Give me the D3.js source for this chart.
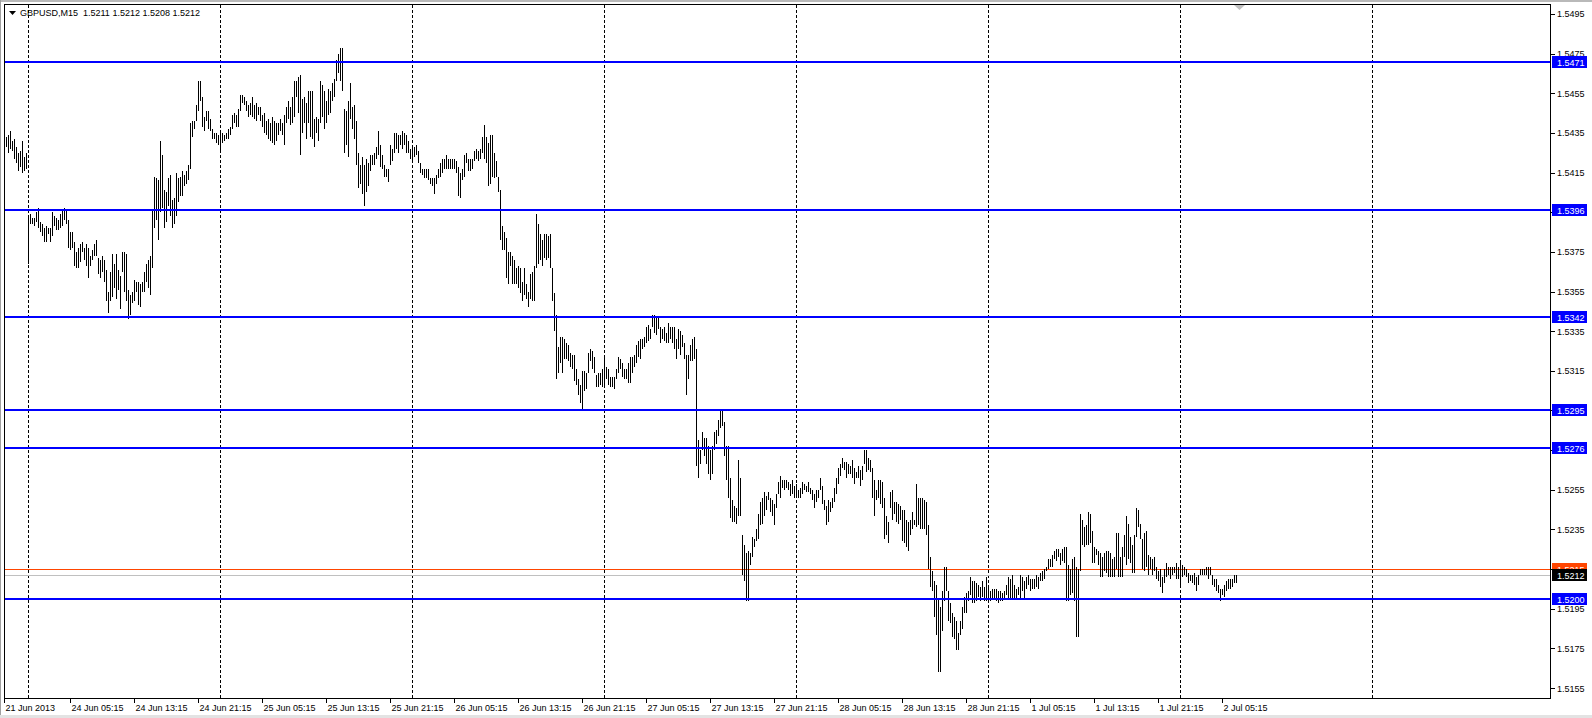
<!DOCTYPE html>
<meta charset="utf-8">

<script src="https://d3js.org/d3.v7.min.js"></script>

<style>
  body { margin: 0; background: #ffffff; }
  text { font-family: Tahoma, "Liberation Sans", Arial, sans-serif; font-size: 9px; }
</style>

<body>
  <div id="my_chart"></div>
</body>

<script>

  // header line of the chart window
  const chartTitle = "GBPUSD,M15  1.5211 1.5212 1.5208 1.5212";

  // M15 bars, first one is 21 Jun 2013 21:15 (bar highs / lows)
  const highs = [
    1.5433,1.5434,1.5436,1.5431,1.5432,1.5428,1.5425,1.5426,1.5431,1.5423,
    1.5425,1.5392,1.5394,1.5392,1.5392,1.5395,1.5397,1.5390,1.5389,1.5387,
    1.5388,1.5387,1.5387,1.5395,1.5393,1.5392,1.5391,1.5394,1.5396,1.5397,
    1.5396,1.5391,1.5385,1.5385,1.5380,1.5375,1.5377,1.5379,1.5380,1.5377,
    1.5379,1.5377,1.5373,1.5376,1.5379,1.5381,1.5372,1.5371,1.5373,1.5371,
    1.5366,1.5355,1.5365,1.5374,1.5369,1.5374,1.5366,1.5363,1.5375,1.5375,
    1.5374,1.5356,1.5353,1.5355,1.5361,1.5360,1.5360,1.5359,1.5360,1.5365,
    1.5369,1.5371,1.5373,1.5396,1.5413,1.5412,1.5411,1.5431,1.5424,1.5406,
    1.5405,1.5412,1.5414,1.5401,1.5402,1.5415,1.5412,1.5413,1.5416,1.5414,
    1.5416,1.5419,1.5440,1.5441,1.5441,1.5449,1.5461,1.5461,1.5453,1.5443,
    1.5446,1.5446,1.5442,1.5437,1.5435,1.5435,1.5434,1.5435,1.5435,1.5434,
    1.5435,1.5437,1.5438,1.5444,1.5445,1.5444,1.5447,1.5454,1.5454,1.5453,
    1.5451,1.5449,1.5450,1.5453,1.5449,1.5450,1.5448,1.5448,1.5444,1.5445,
    1.5441,1.5442,1.5440,1.5443,1.5441,1.5440,1.5440,1.5442,1.5440,1.5444,
    1.5448,1.5451,1.5448,1.5453,1.5461,1.5461,1.5463,1.5464,1.5452,1.5453,
    1.5450,1.5456,1.5456,1.5456,1.5442,1.5443,1.5442,1.5461,1.5459,1.5456,
    1.5451,1.5457,1.5456,1.5460,1.5462,1.5472,1.5475,1.5478,1.5478,1.5447,
    1.5446,1.5451,1.5460,1.5448,1.5449,1.5441,1.5425,1.5419,1.5423,1.5419,
    1.5422,1.5420,1.5424,1.5424,1.5425,1.5428,1.5436,1.5429,1.5424,1.5419,
    1.5417,1.5417,1.5429,1.5427,1.5435,1.5435,1.5434,1.5434,1.5436,1.5435,
    1.5434,1.5431,1.5427,1.5428,1.5428,1.5429,1.5426,1.5420,1.5417,1.5417,
    1.5417,1.5417,1.5412,1.5412,1.5412,1.5414,1.5417,1.5420,1.5422,1.5422,
    1.5424,1.5422,1.5422,1.5422,1.5422,1.5421,1.5418,1.5415,1.5417,1.5424,
    1.5425,1.5422,1.5422,1.5422,1.5426,1.5427,1.5426,1.5427,1.5433,1.5439,
    1.5433,1.5430,1.5434,1.5434,1.5425,1.5421,1.5413,1.5406,1.5388,1.5385,
    1.5382,1.5375,1.5375,1.5373,1.5371,1.5367,1.5368,1.5367,1.5360,1.5367,
    1.5359,1.5355,1.5364,1.5365,1.5368,1.5394,1.5389,1.5384,1.5381,1.5384,
    1.5384,1.5383,1.5384,1.5367,1.5354,1.5343,1.5327,1.5332,1.5332,1.5331,
    1.5329,1.5328,1.5324,1.5323,1.5323,1.5316,1.5311,1.5308,1.5315,1.5315,
    1.5314,1.5324,1.5326,1.5325,1.5322,1.5313,1.5314,1.5314,1.5316,1.5322,
    1.5317,1.5316,1.5312,1.5312,1.5312,1.5316,1.5322,1.5321,1.5319,1.5316,
    1.5316,1.5319,1.5322,1.5322,1.5323,1.5328,1.5330,1.5331,1.5331,1.5332,
    1.5337,1.5338,1.5336,1.5343,1.5343,1.5342,1.5342,1.5337,1.5336,1.5337,
    1.5334,1.5339,1.5337,1.5337,1.5337,1.5331,1.5336,1.5335,1.5333,1.5329,
    1.5323,1.5323,1.5328,1.5331,1.5332,1.5326,1.5280,1.5275,1.5284,1.5281,
    1.5281,1.5277,1.5275,1.5277,1.5284,1.5285,1.5290,1.5295,1.5295,1.5289,
    1.5277,1.5277,1.5261,1.5250,1.5247,1.5246,1.5270,1.5261,1.5232,1.5227,
    1.5223,1.5224,1.5223,1.5231,1.5230,1.5235,1.5243,1.5249,1.5251,1.5254,
    1.5252,1.5254,1.5251,1.5250,1.5248,1.5253,1.5259,1.5262,1.5260,1.5260,
    1.5260,1.5259,1.5258,1.5260,1.5257,1.5258,1.5255,1.5256,1.5259,1.5258,
    1.5257,1.5259,1.5256,1.5255,1.5253,1.5255,1.5255,1.5261,1.5257,1.5250,
    1.5247,1.5250,1.5249,1.5251,1.5256,1.5261,1.5266,1.5268,1.5271,1.5269,
    1.5269,1.5268,1.5267,1.5270,1.5266,1.5264,1.5267,1.5265,1.5267,1.5275,
    1.5275,1.5271,1.5270,1.5266,1.5260,1.5255,1.5260,1.5260,1.5259,1.5251,
    1.5242,1.5239,1.5254,1.5255,1.5249,1.5249,1.5248,1.5247,1.5245,1.5245,
    1.5240,1.5239,1.5240,1.5244,1.5240,1.5258,1.5251,1.5251,1.5251,1.5250,
    1.5249,1.5237,1.5221,1.5214,1.5209,1.5207,1.5200,1.5196,1.5204,1.5216,
    1.5216,1.5204,1.5198,1.5193,1.5191,1.5189,1.5183,1.5189,1.5196,1.5201,
    1.5203,1.5204,1.5211,1.5209,1.5209,1.5208,1.5207,1.5206,1.5209,1.5206,
    1.5211,1.5206,1.5204,1.5205,1.5205,1.5205,1.5204,1.5204,1.5203,1.5204,
    1.5207,1.5211,1.5210,1.5212,1.5207,1.5205,1.5206,1.5212,1.5211,1.5209,
    1.5211,1.5212,1.5210,1.5210,1.5210,1.5212,1.5211,1.5213,1.5214,1.5215,
    1.5216,1.5220,1.5220,1.5222,1.5224,1.5225,1.5225,1.5223,1.5225,1.5226,
    1.5226,1.5217,1.5215,1.5220,1.5221,1.5216,1.5215,1.5243,1.5240,1.5236,
    1.5237,1.5244,1.5243,1.5234,1.5226,1.5225,1.5224,1.5223,1.5221,1.5223,
    1.5224,1.5224,1.5223,1.5220,1.5221,1.5233,1.5233,1.5221,1.5226,1.5232,
    1.5242,1.5238,1.5231,1.5227,1.5232,1.5246,1.5245,1.5238,1.5230,1.5233,
    1.5234,1.5222,1.5221,1.5220,1.5221,1.5216,1.5214,1.5215,1.5211,1.5215,
    1.5218,1.5216,1.5216,1.5216,1.5216,1.5218,1.5216,1.5219,1.5217,1.5216,
    1.5215,1.5213,1.5212,1.5212,1.5213,1.5211,1.5212,1.5215,1.5215,1.5215,
    1.5216,1.5216,1.5216,1.5212,1.5210,1.5210,1.5207,1.5205,1.5205,1.5207,
    1.5209,1.5210,1.5210,1.5210,1.5212,1.5212
  ];

  const lows = [
    1.5428,1.5425,1.5427,1.5426,1.5422,1.5420,1.5416,1.5418,1.5415,1.5416,
    1.5417,1.5369,1.5389,1.5389,1.5388,1.5390,1.5387,1.5385,1.5383,1.5380,
    1.5380,1.5384,1.5380,1.5383,1.5388,1.5386,1.5386,1.5387,1.5388,1.5391,
    1.5389,1.5377,1.5376,1.5377,1.5368,1.5367,1.5367,1.5370,1.5375,1.5371,
    1.5368,1.5362,1.5368,1.5371,1.5373,1.5373,1.5364,1.5362,1.5365,1.5360,
    1.5350,1.5344,1.5350,1.5352,1.5357,1.5351,1.5356,1.5346,1.5365,1.5355,
    1.5350,1.5341,1.5343,1.5349,1.5350,1.5355,1.5348,1.5347,1.5355,1.5355,
    1.5360,1.5357,1.5353,1.5367,1.5387,1.5391,1.5381,1.5395,1.5397,1.5387,
    1.5390,1.5398,1.5393,1.5387,1.5389,1.5393,1.5400,1.5403,1.5403,1.5408,
    1.5409,1.5411,1.5417,1.5433,1.5437,1.5441,1.5446,1.5451,1.5438,1.5436,
    1.5441,1.5437,1.5436,1.5432,1.5432,1.5430,1.5429,1.5426,1.5430,1.5431,
    1.5432,1.5432,1.5434,1.5437,1.5440,1.5438,1.5438,1.5446,1.5450,1.5449,
    1.5446,1.5443,1.5444,1.5443,1.5442,1.5441,1.5444,1.5441,1.5438,1.5435,
    1.5434,1.5432,1.5431,1.5430,1.5429,1.5431,1.5434,1.5436,1.5434,1.5429,
    1.5440,1.5442,1.5439,1.5440,1.5443,1.5453,1.5445,1.5424,1.5435,1.5440,
    1.5432,1.5440,1.5433,1.5432,1.5428,1.5435,1.5431,1.5440,1.5443,1.5437,
    1.5440,1.5444,1.5445,1.5451,1.5453,1.5461,1.5465,1.5461,1.5456,1.5425,
    1.5429,1.5423,1.5442,1.5437,1.5432,1.5419,1.5407,1.5409,1.5404,1.5398,
    1.5405,1.5408,1.5416,1.5419,1.5419,1.5422,1.5424,1.5418,1.5417,1.5413,
    1.5413,1.5410,1.5419,1.5421,1.5425,1.5427,1.5425,1.5429,1.5427,1.5429,
    1.5425,1.5425,1.5422,1.5421,1.5423,1.5424,1.5420,1.5415,1.5414,1.5412,
    1.5412,1.5411,1.5409,1.5408,1.5404,1.5409,1.5412,1.5413,1.5415,1.5417,
    1.5417,1.5417,1.5417,1.5417,1.5417,1.5415,1.5403,1.5402,1.5411,1.5413,
    1.5420,1.5416,1.5416,1.5417,1.5421,1.5422,1.5421,1.5422,1.5425,1.5422,
    1.5420,1.5408,1.5409,1.5413,1.5412,1.5413,1.5405,1.5381,1.5376,1.5376,
    1.5362,1.5359,1.5368,1.5359,1.5359,1.5359,1.5357,1.5354,1.5350,1.5353,
    1.5351,1.5347,1.5351,1.5350,1.5350,1.5367,1.5369,1.5371,1.5368,1.5372,
    1.5371,1.5372,1.5367,1.5350,1.5335,1.5311,1.5314,1.5319,1.5314,1.5321,
    1.5321,1.5320,1.5317,1.5316,1.5310,1.5308,1.5303,1.5299,1.5295,1.5305,
    1.5306,1.5314,1.5320,1.5316,1.5314,1.5307,1.5307,1.5308,1.5307,1.5307,
    1.5311,1.5308,1.5307,1.5307,1.5306,1.5311,1.5314,1.5316,1.5312,1.5311,
    1.5311,1.5309,1.5309,1.5314,1.5317,1.5319,1.5322,1.5321,1.5326,1.5327,
    1.5329,1.5330,1.5331,1.5337,1.5334,1.5333,1.5336,1.5329,1.5331,1.5330,
    1.5329,1.5329,1.5331,1.5329,1.5326,1.5321,1.5326,1.5323,1.5327,1.5321,
    1.5303,1.5311,1.5320,1.5320,1.5321,1.5267,1.5261,1.5268,1.5275,1.5272,
    1.5268,1.5263,1.5260,1.5263,1.5275,1.5278,1.5282,1.5286,1.5287,1.5272,
    1.5260,1.5251,1.5241,1.5239,1.5239,1.5238,1.5242,1.5242,1.5212,1.5209,
    1.5199,1.5199,1.5217,1.5221,1.5226,1.5229,1.5230,1.5237,1.5238,1.5242,
    1.5245,1.5250,1.5244,1.5242,1.5237,1.5246,1.5253,1.5251,1.5256,1.5255,
    1.5256,1.5255,1.5252,1.5253,1.5251,1.5251,1.5251,1.5251,1.5253,1.5255,
    1.5254,1.5254,1.5253,1.5250,1.5246,1.5249,1.5251,1.5255,1.5248,1.5245,
    1.5237,1.5239,1.5244,1.5246,1.5249,1.5253,1.5258,1.5262,1.5266,1.5265,
    1.5261,1.5263,1.5263,1.5261,1.5258,1.5261,1.5261,1.5257,1.5260,1.5268,
    1.5264,1.5265,1.5264,1.5251,1.5242,1.5250,1.5251,1.5248,1.5246,1.5230,
    1.5232,1.5228,1.5246,1.5240,1.5243,1.5239,1.5238,1.5240,1.5229,1.5228,
    1.5226,1.5224,1.5232,1.5235,1.5237,1.5236,1.5237,1.5235,1.5235,1.5235,
    1.5232,1.5215,1.5206,1.5204,1.5191,1.5182,1.5163,1.5163,1.5184,1.5199,
    1.5204,1.5189,1.5188,1.5181,1.5180,1.5174,1.5174,1.5182,1.5185,1.5193,
    1.5193,1.5199,1.5202,1.5198,1.5198,1.5199,1.5201,1.5199,1.5201,1.5199,
    1.5199,1.5201,1.5199,1.5200,1.5200,1.5199,1.5198,1.5199,1.5199,1.5200,
    1.5202,1.5200,1.5200,1.5200,1.5200,1.5200,1.5202,1.5200,1.5204,1.5200,
    1.5205,1.5207,1.5204,1.5205,1.5205,1.5206,1.5205,1.5209,1.5209,1.5210,
    1.5214,1.5215,1.5216,1.5216,1.5220,1.5219,1.5221,1.5217,1.5219,1.5218,
    1.5199,1.5199,1.5202,1.5203,1.5199,1.5181,1.5181,1.5214,1.5227,1.5226,
    1.5227,1.5227,1.5228,1.5218,1.5218,1.5222,1.5217,1.5211,1.5211,1.5214,
    1.5213,1.5211,1.5211,1.5211,1.5211,1.5215,1.5211,1.5211,1.5211,1.5221,
    1.5217,1.5220,1.5218,1.5213,1.5213,1.5231,1.5236,1.5230,1.5215,1.5214,
    1.5216,1.5212,1.5215,1.5212,1.5214,1.5210,1.5209,1.5206,1.5203,1.5208,
    1.5211,1.5212,1.5210,1.5212,1.5213,1.5210,1.5210,1.5207,1.5211,1.5212,
    1.5211,1.5208,1.5209,1.5208,1.5207,1.5204,1.5207,1.5212,1.5212,1.5212,
    1.5212,1.5210,1.5212,1.5207,1.5206,1.5204,1.5203,1.5199,1.5202,1.5201,
    1.5204,1.5205,1.5205,1.5206,1.5208,1.5208
  ];

  // time axis labels and the bar they sit on
  const timeLabels = ["21 Jun 2013","24 Jun 05:15","24 Jun 13:15","24 Jun 21:15","25 Jun 05:15",
    "25 Jun 13:15","25 Jun 21:15","26 Jun 05:15","26 Jun 13:15","26 Jun 21:15","27 Jun 05:15",
    "27 Jun 13:15","27 Jun 21:15","28 Jun 05:15","28 Jun 13:15","28 Jun 21:15","1 Jul 05:15",
    "1 Jul 13:15","1 Jul 21:15","2 Jul 05:15"];
  const timeLabelBars = [0,32,64,96,128,160,192,224,256,288,320,352,384,416,448,480,512,544,576,608];

  // period separators (start of each day)
  const daySeparatorBars = [11,107,203,299,395,491,587,683];

  const priceTicks = [1.5155,1.5175,1.5195,1.5215,1.5235,1.5255,1.5275,1.5295,1.5315,
    1.5335,1.5355,1.5375,1.5395,1.5415,1.5435,1.5455,1.5475,1.5495];

  // horizontal lines drawn on the chart
  const levels = [1.5471,1.5396,1.5342,1.5295,1.5276,1.5200];
  const askPrice = 1.5215;
  const bidPrice = 1.5212;

  var width = 1592, height = 718;
  var frame = {left: 4.5, top: 4.5, right: 1550.5, bottom: 698.5};

  const svg = d3.select("#my_chart")
    .append("svg")
      .attr("width", width)
      .attr("height", height)
      .style("display", "block");

  svg.append("rect").attr("width", width).attr("height", height).attr("fill", "#ffffff");

  // window edges
  svg.append("rect").attr("x", 0).attr("y", 0).attr("width", width).attr("height", 2).attr("fill", "#b9b9b9");
  svg.append("rect").attr("x", 0).attr("y", 0).attr("width", 1).attr("height", height).attr("fill", "#a0a0a0");
  svg.append("rect").attr("x", 0).attr("y", height - 3).attr("width", width).attr("height", 3).attr("fill", "#e3e3e3");

  const x = d3.scaleLinear()
    .domain([0, 772])
    .range([6.5, 6.5 + 772 * 2]);

  const y = d3.scaleLinear()
    .domain([1.5150, 1.5500])
    .range([698, 4]);

  const py = function(v) { return Math.round(y(v)) + 0.5; };

  // day separators
  svg.selectAll("mySep")
    .data(daySeparatorBars)
    .join("line")
      .attr("x1", function(d) { return x(d); })
      .attr("x2", function(d) { return x(d); })
      .attr("y1", frame.top)
      .attr("y2", frame.bottom)
      .attr("stroke", "#000000")
      .attr("stroke-width", 1)
      .attr("stroke-dasharray", "3,2")
      .attr("shape-rendering", "crispEdges");

  // ask / bid lines
  svg.append("line")
    .attr("x1", frame.left).attr("x2", frame.right)
    .attr("y1", py(askPrice)).attr("y2", py(askPrice))
    .attr("stroke", "#ff4500").attr("shape-rendering", "crispEdges");
  svg.append("line")
    .attr("x1", frame.left).attr("x2", frame.right)
    .attr("y1", py(bidPrice)).attr("y2", py(bidPrice))
    .attr("stroke", "#c0c0c0").attr("shape-rendering", "crispEdges");

  // bars (high - low)
  svg.selectAll("myBar")
    .data(highs)
    .join("line")
      .attr("x1", function(d, i) { return x(i); })
      .attr("x2", function(d, i) { return x(i); })
      .attr("y1", function(d) { return Math.round(y(d)); })
      .attr("y2", function(d, i) { return Math.max(Math.round(y(lows[i])), Math.round(y(d)) + 1); })
      .attr("stroke", "#000000")
      .attr("stroke-width", 1)
      .attr("shape-rendering", "crispEdges");

  // horizontal levels
  svg.selectAll("myLevel")
    .data(levels)
    .join("line")
      .attr("x1", frame.left)
      .attr("x2", frame.right)
      .attr("y1", function(d) { return Math.round(y(d)); })
      .attr("y2", function(d) { return Math.round(y(d)); })
      .attr("stroke", "#0000ff")
      .attr("stroke-width", 2)
      .attr("shape-rendering", "crispEdges");

  // frame
  svg.append("rect")
    .attr("x", frame.left)
    .attr("y", frame.top)
    .attr("width", frame.right - frame.left)
    .attr("height", frame.bottom - frame.top)
    .attr("fill", "none")
    .attr("stroke", "#000000")
    .attr("shape-rendering", "crispEdges");

  // chart shift marker
  svg.append("path")
    .attr("d", "M1234,5 L1245,5 L1239.5,10 Z")
    .attr("fill", "#c0c0c0");

  // price axis
  svg.selectAll("myTick")
    .data(priceTicks)
    .join("line")
      .attr("x1", frame.right)
      .attr("x2", frame.right + 4)
      .attr("y1", py)
      .attr("y2", py)
      .attr("stroke", "#000000")
      .attr("shape-rendering", "crispEdges");

  svg.selectAll("myTickLabel")
    .data(priceTicks)
    .join("text")
      .attr("x", 1557)
      .attr("y", function(d) { return y(d) + 3.5; })
      .attr("fill", "#000000")
      .text(function(d) { return d.toFixed(4); });

  function priceBox(v, fill) {
    var yy = Math.round(y(v));
    svg.append("rect")
      .attr("x", 1552)
      .attr("y", yy - 6)
      .attr("width", 35)
      .attr("height", 12)
      .attr("fill", fill);
    svg.append("text")
      .attr("x", 1557)
      .attr("y", yy + 4)
      .attr("fill", "#ffffff")
      .text(v.toFixed(4));
  }

  levels.forEach(function(v) { priceBox(v, "#0000ff"); });
  priceBox(askPrice, "#ff4500");
  priceBox(bidPrice, "#000000");

  // time axis
  svg.selectAll("myTimeTick")
    .data(timeLabelBars)
    .join("line")
      .attr("x1", function(d) { return d == 0 ? frame.left : x(d); })
      .attr("x2", function(d) { return d == 0 ? frame.left : x(d); })
      .attr("y1", frame.bottom)
      .attr("y2", frame.bottom + 4)
      .attr("stroke", "#000000")
      .attr("shape-rendering", "crispEdges");

  svg.selectAll("myTimeLabel")
    .data(timeLabels)
    .join("text")
      .attr("x", function(d, i) { return (timeLabelBars[i] == 0 ? frame.left : x(timeLabelBars[i])) + 1; })
      .attr("y", 711)
      .attr("fill", "#000000")
      .text(function(d) { return d; });

  // header
  svg.append("path")
    .attr("d", "M9,11 L16,11 L12.5,15 Z")
    .attr("fill", "#000000");
  svg.append("text")
    .attr("x", 20)
    .attr("y", 16)
    .attr("fill", "#000000")
    .attr("xml:space", "preserve")
    .style("white-space", "pre")
    .text(chartTitle);

</script>
